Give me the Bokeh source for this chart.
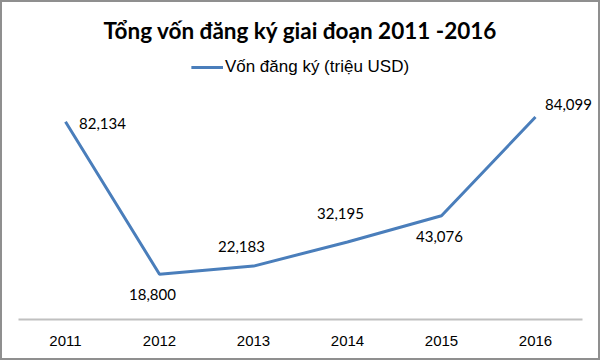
from bokeh.plotting import figure
from bokeh.models import ColumnDataSource, Range1d, LabelSet, Legend, LegendItem, Label, FixedTicker
from bokeh.core.properties import value
from bokeh.embed import file_html
from bokeh.resources import INLINE

# Data
years = ["2011", "2012", "2013", "2014", "2015", "2016"]
capital = [82134, 18800, 22183, 32195, 43076, 84099]
title_text = "Tổng vốn đăng ký giai đoạn 2011 -2016"
series_name = "Vốn đăng ký (triệu USD)"

# label placement (screen pixels, relative to each point; +y is up)
label_dx = [37, -7, -12, -7, -2, 33]
label_dy = [-2, -20, 20, 28, -21, 13]

idx = list(range(len(years)))
src = ColumnDataSource(dict(
    x=idx, y=capital, text=[f"{v:,}" for v in capital],
    dx=label_dx, dy=label_dy))

Y_END = 132500
PAD = 18 / 94  # outer gap (px) expressed in category widths
n = len(years)
p = figure(width=600, height=360,
           x_range=Range1d(-0.5 - PAD, n - 0.5 + PAD), y_range=Range1d(0, Y_END),
           output_backend="svg", toolbar_location=None,
           min_border_left=0, min_border_right=0, min_border_top=0, min_border_bottom=41)
p.border_fill_color = None
p.background_fill_color = None
p.styles = {"background-color": "white", "box-shadow": "inset 0 0 0 2px #8f8f8f"}
p.outline_line_color = None
p.xgrid.visible = False
p.ygrid.visible = False
p.yaxis.visible = False

ax = p.xaxis[0]
ax.bounds = (-0.5, n - 0.5)
ax.ticker = FixedTicker(ticks=idx)
ax.major_label_overrides = {i: y for i, y in zip(idx, years)}
ax.axis_line_color = "#C0C0C0"
ax.axis_line_width = 2
ax.major_tick_line_color = None
ax.minor_tick_line_color = None
ax.major_label_standoff = 10
ax.major_label_text_font = "Liberation Sans"
ax.major_label_text_font_size = "15px"
ax.major_label_text_font_style = "normal"
ax.major_label_text_color = "#000000"

r = p.line("x", "y", source=src, line_color="#4A7EBB", line_width=3)

labels = LabelSet(x="x", y="y", text="text", source=src, x_offset="dx", y_offset="dy",
                  text_align="center", text_baseline="middle",
                  text_font=value("Lato"), text_font_size=value("15px"),
                  text_color="#000000")
p.add_layout(labels)

legend = Legend(items=[LegendItem(label=series_name, renderers=[r])],
                orientation="horizontal", location="top_center",
                label_text_font="Liberation Sans", label_text_font_size="17px",
                label_text_color="#000000",
                glyph_width=32, glyph_height=16, label_standoff=2, label_height=16,
                padding=0, margin=57, border_line_color=None, background_fill_alpha=0)
p.add_layout(legend, "center")

title = Label(x=(n - 1) / 2, y=Y_END, y_offset=-30, text=title_text,
              text_align="center", text_baseline="middle",
              text_font="Lato", text_font_style="bold", text_font_size="22.5px",
              text_color="#000000")
p.add_layout(title)

open("out.html", "w").write(file_html(p, INLINE))
